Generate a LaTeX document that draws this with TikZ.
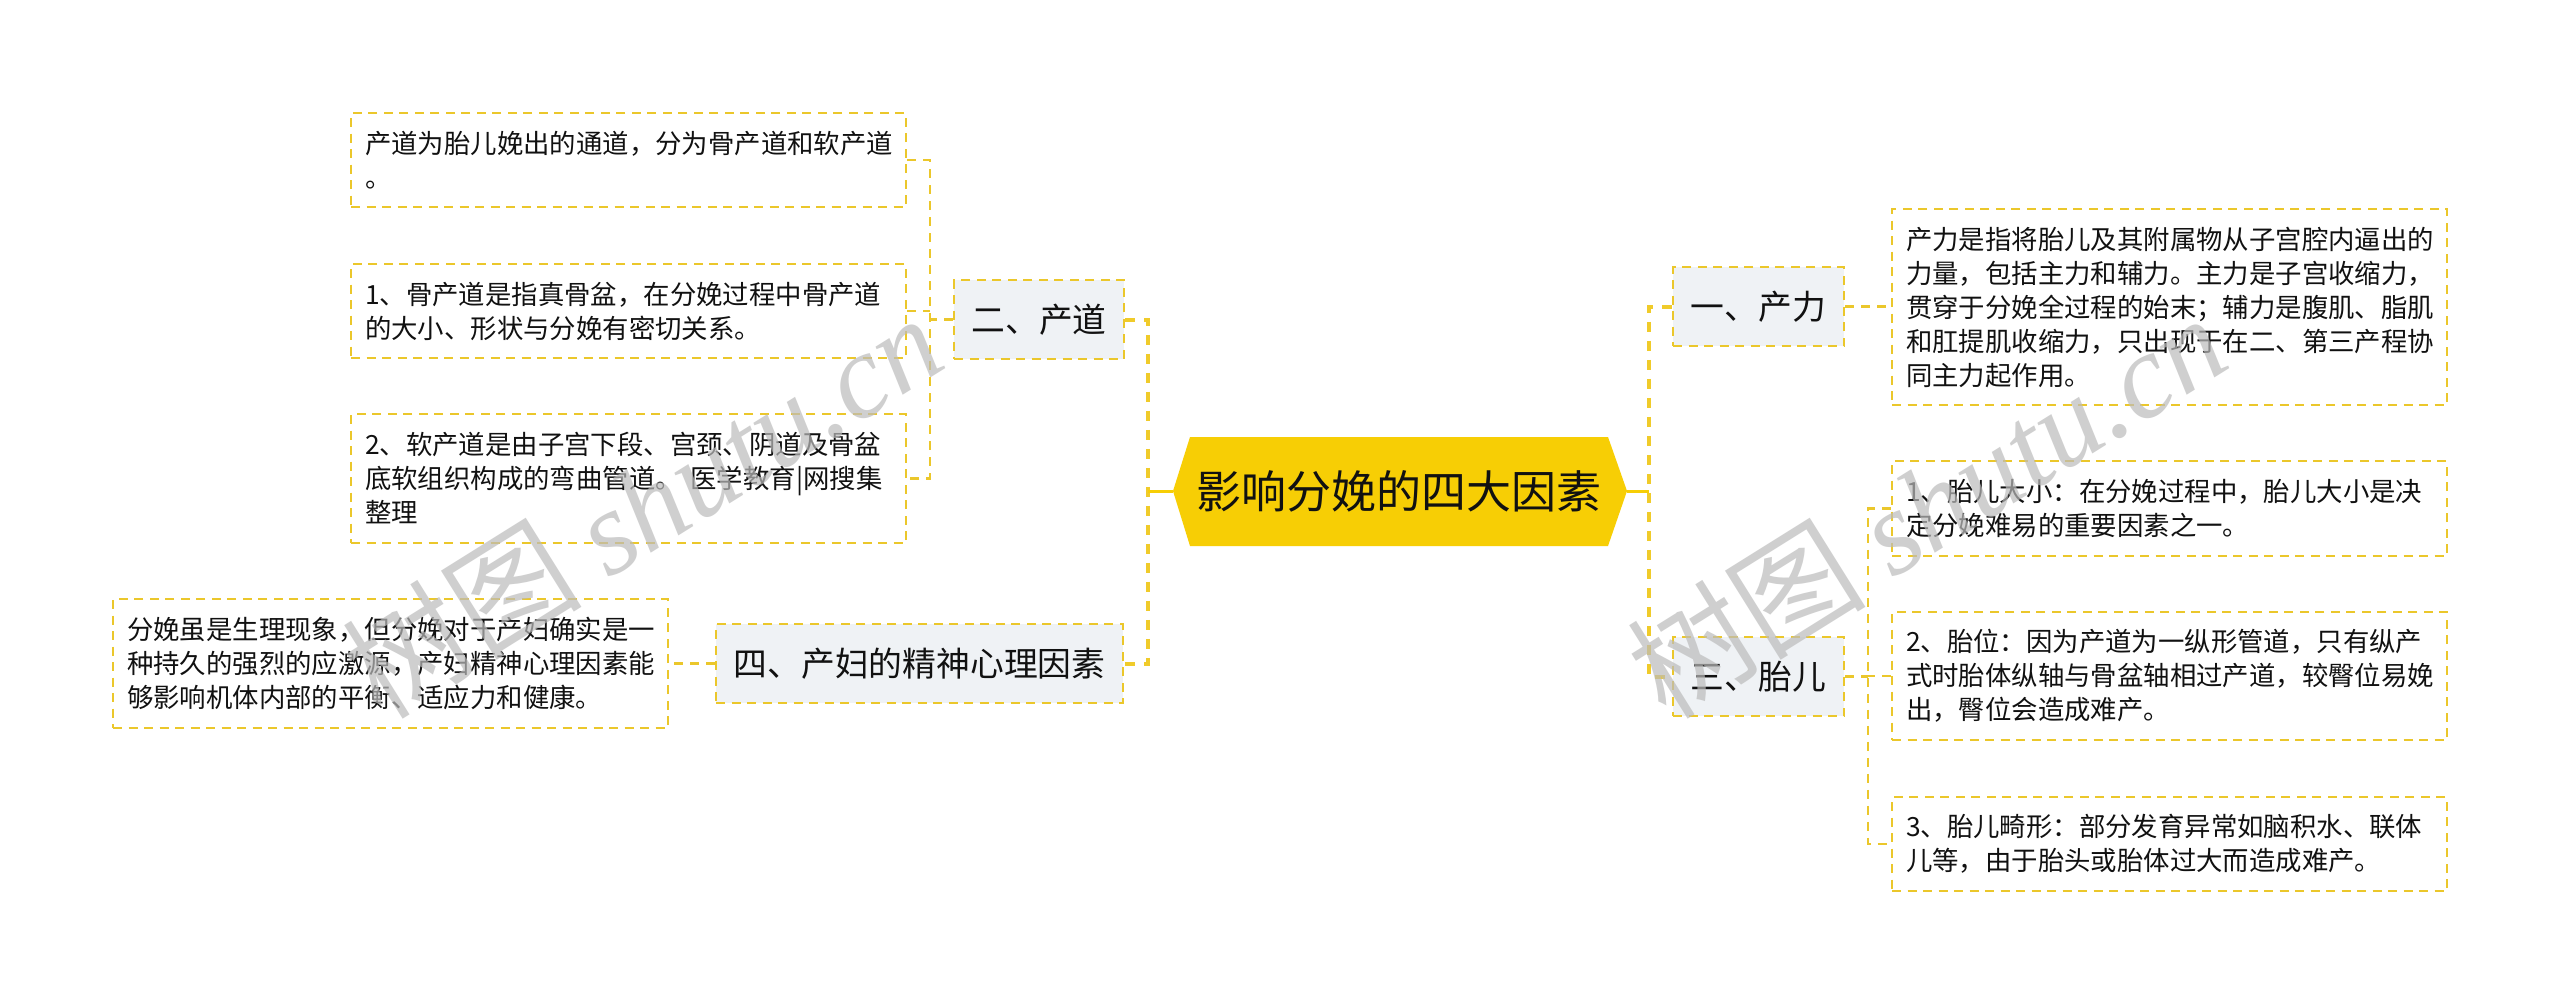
\documentclass[tikz,border=0pt]{standalone}
\usepackage{fontspec}
\setmainfont{Noto Sans CJK SC}
\newfontfamily\wmlatin{Liberation Serif}
\definecolor{lineY}{HTML}{EBC72B}
\definecolor{trunkY}{HTML}{F0CB2A}
\definecolor{rootY}{HTML}{F7CE05}
\definecolor{topicF}{HTML}{EFF2F5}
\definecolor{ink}{HTML}{111111}
\definecolor{wm}{HTML}{BBBBBB}
\tikzset{
  x=1pt,y=-1pt,
  leaf/.style={draw=lineY,line width=2.5pt,dash pattern=on 9pt off 6.5pt,fill=white,inner sep=0pt,align=left,text=ink,
    font=\fontsize{26.4pt}{34pt}\selectfont},
  topic/.style={draw=lineY,line width=2.5pt,dash pattern=on 9pt off 6.5pt,fill=topicF,inner sep=0pt,align=center,text=ink,
    font=\fontsize{33.8pt}{40pt}\selectfont},
  conn/.style={draw=lineY,line width=2.5pt,dash pattern=on 9pt off 7pt},
  trunk/.style={draw=trunkY,line width=4pt,dash pattern=on 10pt off 9pt},
  rootlink/.style={draw=rootY,line width=3pt},
  rootbox/.style={inner sep=0pt,text=ink,font=\fontsize{45pt}{50pt}\selectfont},
  wmark/.style={text=wm,opacity=.7,rotate=32,inner sep=0pt,font=\fontsize{120pt}{124pt}\selectfont},
}
\newcommand{\leafbox}[6]{% name, x1, y1, x2, y2, text
  \node[leaf,minimum width=#4-#2,minimum height=#5-#3,text width=#4-#2-28] (#1) at ({(#2+#4)/2},{(#3+#5)/2}) {#6};}
\begin{document}
\begin{tikzpicture}
\useasboundingbox (0,0) rectangle (2560,1004);
\fill[white] (0,0) rectangle (2560,1004);

% trunks and root corners
\coordinate (tL) at (1148,319);
\coordinate (tR) at (1649,307);
\coordinate (tA) at (930,319);
\coordinate (tB) at (1868,508);
\coordinate (rootW) at (1173,491);
\coordinate (rootE) at (1627,491);

% root
\fill[rootY] (1190,437) -- (1608,437) -- (rootE) -- (1608,546) -- (1190,546) -- (rootW) -- cycle;
\node[rootbox] (root) at (1399,491) {影响分娩的四大因素};

% topics
\node[topic,minimum width=170pt,minimum height=79pt] (t2) at (1039,319.5) {二、产道};
\node[topic,minimum width=407pt,minimum height=79pt] (t4) at (919.5,663.5) {四、产妇的精神心理因素};
\node[topic,minimum width=171pt,minimum height=79pt] (t1) at (1758.5,306.5) {一、产力};
\node[topic,minimum width=171pt,minimum height=79pt] (t3) at (1758.5,676.5) {三、胎儿};

% leaves
\leafbox{a1}{351}{113}{906}{207}{产道为胎儿娩出的通道，分为骨产道和软产道\\。}
\leafbox{a2}{351}{264}{906}{358}{1、骨产道是指真骨盆，在分娩过程中骨产道\\的大小、形状与分娩有密切关系。}
\leafbox{a3}{351}{414}{906}{543}{2、软产道是由子宫下段、宫颈、阴道及骨盆\\底软组织构成的弯曲管道。 医学教育|网搜集\\整理}
\leafbox{d1}{113}{599}{668}{728}{分娩虽是生理现象，但分娩对于产妇确实是一\\种持久的强烈的应激源，产妇精神心理因素能\\够影响机体内部的平衡、适应力和健康。}
\leafbox{p1}{1892}{209}{2447}{405}{产力是指将胎儿及其附属物从子宫腔内逼出的\\力量，包括主力和辅力。主力是子宫收缩力，\\贯穿于分娩全过程的始末；辅力是腹肌、脂肌\\和肛提肌收缩力，只出现于在二、第三产程协\\同主力起作用。}
\leafbox{b1}{1892}{461}{2447}{556}{1、胎儿大小：在分娩过程中，胎儿大小是决\\定分娩难易的重要因素之一。}
\leafbox{b2}{1892}{612}{2447}{740}{2、胎位：因为产道为一纵形管道，只有纵产\\式时胎体纵轴与骨盆轴相过产道，较臀位易娩\\出，臀位会造成难产。}
\leafbox{b3}{1892}{797}{2447}{891}{3、胎儿畸形：部分发育异常如脑积水、联体\\儿等，由于胎头或胎体过大而造成难产。}

% connectors
\draw[trunk] (t2.east) -- (t2.east -| tL) -- (tL |- t4.east) -- (t4.east);
\draw[rootlink] (rootW -| tL) -- (rootW);
\draw[rootlink] (rootE) -- (rootE -| tR);
\draw[trunk] (t1.west) -- (t1.west -| tR) -- (tR |- t3.west) -- (t3.west);
\draw[conn] (a1.east) -- (a1.east -| tA) -- (a3.east -| tA) -- (a3.east);
\draw[conn] (a2.east) -- (a2.east -| tA);
\draw[conn] (t2.west) -- (t2.west -| tA);
\draw[conn] (t4.west) -- (d1.east);
\draw[conn] (t1.east) -- (p1.west |- t1.east);
\draw[conn] (b1.west) -- (b1.west -| tB) -- (b3.west -| tB) -- (b3.west);
\draw[conn] (b2.west) -- (b2.west -| tB);
\draw[conn] (t3.east) -- (t3.east -| tB);

% watermarks
\node[wmark] (w1) at (642,505) {树图 {\wmlatin\itshape shutu.cn}};
\node[wmark] (w2) at (1926,505) {树图 {\wmlatin\itshape shutu.cn}};
\end{tikzpicture}
\end{document}
